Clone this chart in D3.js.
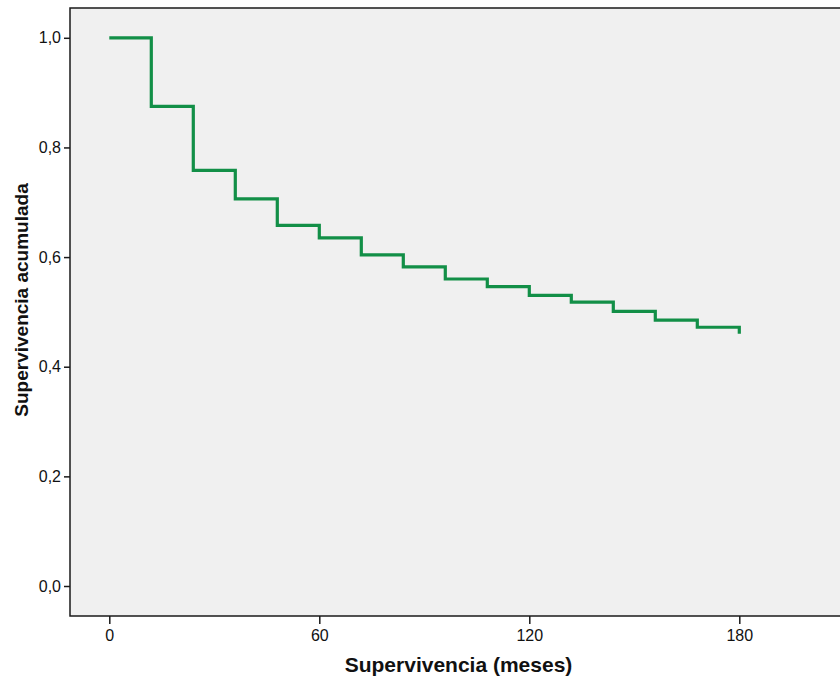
<!DOCTYPE html>
<html>
<head>
<meta charset="utf-8">
<script src="https://cdn.jsdelivr.net/npm/d3@7"></script>
<style>
  html, body { margin: 0; padding: 0; background: #ffffff; }
  svg { display: block; font-family: "Liberation Sans", Arial, sans-serif; }
</style>
</head>
<body>
<svg id="chart" width="840" height="688"></svg>
<script>
// Data
const months = [0, 12, 24, 36, 48, 60, 72, 84, 96, 108, 120, 132, 144, 156, 168, 180];
const survival = [1.0, 0.875, 0.758, 0.706, 0.658, 0.635, 0.604, 0.582, 0.560, 0.546, 0.530, 0.518, 0.501, 0.485, 0.472, 0.460];
const xTicks = [0, 60, 120, 180];
const yTicks = [0.0, 0.2, 0.4, 0.6, 0.8, 1.0];
const xTitle = "Supervivencia (meses)";
const yTitle = "Supervivencia acumulada";

const svg = d3.select("#chart");
const frame = { left: 70, top: 8, right: 845, bottom: 616 };

const x = d3.scaleLinear().domain([0, 180]).range([109.3, 739.3]);
const y = d3.scaleLinear().domain([0, 1]).range([586, 37.8]);

// plot background
svg.append("rect")
  .attr("x", frame.left).attr("y", frame.top)
  .attr("width", frame.right - frame.left).attr("height", frame.bottom - frame.top)
  .attr("fill", "#f0f0f0")
  .attr("stroke", "#1a1a1a").attr("stroke-width", 1.5);

// step line (Kaplan-Meier)
const pts = months.map((m, i) => [m, survival[i]]);
const line = d3.line()
  .x(d => x(d[0])).y(d => y(d[1]))
  .curve(d3.curveStepAfter);
svg.append("path")
  .datum(pts)
  .attr("d", line)
  .attr("fill", "none")
  .attr("stroke", "#128f47")
  .attr("stroke-width", 3.2)
  .attr("stroke-linejoin", "miter")
  .attr("stroke-linecap", "butt");

// Y axis
const yAxis = d3.axisLeft(y).tickValues(yTicks)
  .tickSize(6).tickPadding(3)
  .tickFormat(d => d3.format(".1f")(d).replace(".", ","));
const gy = svg.append("g").attr("transform", `translate(${frame.left},0)`).call(yAxis);
gy.attr("font-size", null).attr("font-family", null);
gy.select(".domain").remove();
gy.selectAll(".tick line").attr("stroke", "#1a1a1a").attr("stroke-width", 1.5);
gy.selectAll(".tick text").style("font-size", "16px").attr("fill", "#111");

// X axis
const xAxis = d3.axisBottom(x).tickValues(xTicks)
  .tickSize(8).tickPadding(6)
  .tickFormat(d3.format("d"));
const gx = svg.append("g").attr("transform", `translate(0,${frame.bottom})`).call(xAxis);
gx.attr("font-size", null).attr("font-family", null);
gx.select(".domain").remove();
gx.selectAll(".tick line").attr("stroke", "#1a1a1a").attr("stroke-width", 1.5);
gx.selectAll(".tick text").style("font-size", "16px").attr("fill", "#111");

// Titles
svg.append("text")
  .attr("x", 458.5).attr("y", 672)
  .attr("text-anchor", "middle")
  .style("font-size", "21px").attr("font-weight", "bold").attr("fill", "#111")
  .text(xTitle);

svg.append("text")
  .attr("transform", "translate(28,300) rotate(-90)")
  .attr("text-anchor", "middle")
  .style("font-size", "19px").attr("font-weight", "bold").attr("fill", "#111")
  .text(yTitle);
</script>
</body>
</html>
